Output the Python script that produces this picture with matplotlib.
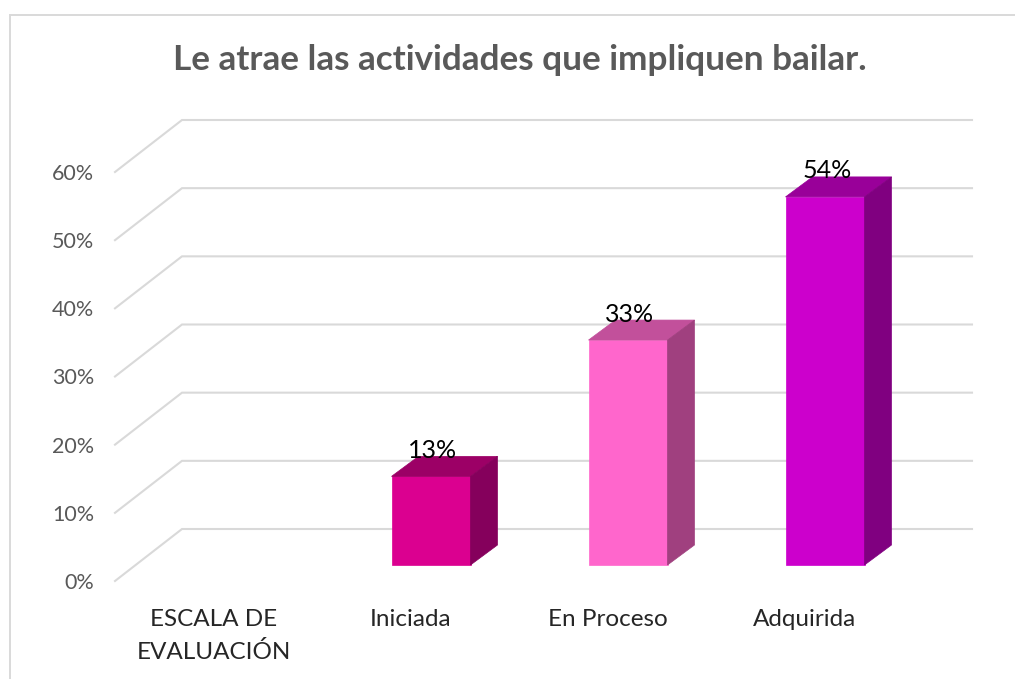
import matplotlib
matplotlib.use("Agg")
import matplotlib.pyplot as plt
from matplotlib.lines import Line2D
from matplotlib.patches import Polygon
from matplotlib.transforms import offset_copy, ScaledTranslation

categories = ["ESCALA DE\nEVALUACIÓN", "Iniciada", "En Proceso", "Adquirida"]
values = [None, 13, 33, 54]
labels = ["", "13%", "33%", "54%"]
front_colors = [None, "#DB0090", "#FF66CC", "#CC00CC"]
top_colors = [None, "#9C0066", "#C2509B", "#990099"]
side_colors = [None, "#85005C", "#A0407F", "#800080"]
yticks = [0, 10, 20, 30, 40, 50, 60]

W, H = 1015, 679
plt.rcParams["font.family"] = ["Lato", "DejaVu Sans"]
fig = plt.figure(figsize=(W / 100, H / 100), dpi=100)

# axes: x=category index, y=percent; pixel layout of the front wall edge
left, right, y0, y60 = 115, 972, 581, 172
x_cat0, x_step = 234, 197
xmin = (left - x_cat0) / x_step
xmax = (right - x_cat0) / x_step
ax = fig.add_axes([left / W, 1 - y0 / H, (right - left) / W, (y0 - y60) / H])
ax.set_xlim(xmin, xmax)
ax.set_ylim(0, 60)
for s in ax.spines.values():
    s.set_visible(False)
ax.patch.set_alpha(0)

GRID = "#D9D9D9"
wall_dx, wall_dy = 67 / x_step, 52 * 60 / (y0 - y60)
for v in yticks:
    ax.plot([xmin, xmin + wall_dx, xmax], [v, v + wall_dy, v + wall_dy],
            color=GRID, lw=1.5, clip_on=False, zorder=1, solid_joinstyle="miter")

ax.set_yticks(yticks)
ax.set_yticklabels([f"{v}%" for v in yticks], color="#595959", fontsize=15.5)
ax.set_xticks(range(len(categories)))
ax.set_xticklabels(categories, color="#262626", fontsize=17.5, linespacing=1.6)
ax.tick_params(length=0)
ax.tick_params(axis="y", pad=15)
ax.tick_params(axis="x", pad=20.5)
shift = ScaledTranslation(-20 / 100, 0, fig.dpi_scale_trans)
for lab in ax.get_xticklabels():
    lab.set_transform(lab.get_transform() + shift)

# bars: front face sits 16 px above the front floor edge
base = offset_copy(ax.transData, fig=fig, x=0, y=16 * 72 / 100, units="points")
bar_w = 79 / x_step
dx, dy = 27 / x_step, 20 * 60 / (y0 - y60)
lab_tr = offset_copy(base, fig=fig, x=2 * 72 / 100, y=6 * 72 / 100, units="points")
for i, v in enumerate(values):
    if v is None:
        continue
    l, r = i - bar_w / 2, i + bar_w / 2
    ax.add_patch(Polygon([(l, 0), (r, 0), (r, v), (l, v)], closed=True, transform=base,
                         fc=front_colors[i], ec=front_colors[i], lw=0.5, zorder=3, clip_on=False))
    ax.add_patch(Polygon([(l, v), (r, v), (r + dx, v + dy), (l + dx, v + dy)], closed=True, transform=base,
                         fc=top_colors[i], ec=top_colors[i], lw=0.5, zorder=3, clip_on=False))
    ax.add_patch(Polygon([(r, 0), (r + dx, dy), (r + dx, v + dy), (r, v)], closed=True, transform=base,
                         fc=side_colors[i], ec=side_colors[i], lw=0.5, zorder=3, clip_on=False))
    ax.text(i, v + dy, labels[i], transform=lab_tr, ha="center", va="center",
            fontsize=18, color="black", zorder=4, clip_on=False)

fig.text(520 / W, 1 - 60 / H, "Le atrae las actividades que impliquen bailar.",
         ha="center", va="center", fontsize=25.3, fontweight="bold", color="#595959")

fig.add_artist(Line2D([10 / W, 10 / W, 1], [0, 1 - 15 / H, 1 - 15 / H], transform=fig.transFigure,
                      color="#D9D9D9", lw=1.4, solid_joinstyle="miter"))
fig.savefig("out.png", dpi=100)
